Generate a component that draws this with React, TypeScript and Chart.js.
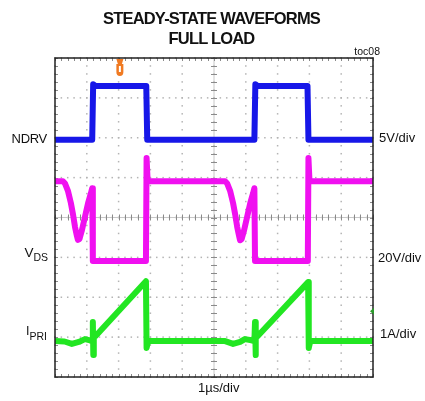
import React, { useEffect, useRef } from "react";
import { Chart, registerables } from "chart.js";

Chart.register(...registerables);

// ---- Scope setup ----
const TIME_DIVS = 10; // 1 µs/div
const VERT_DIVS = 8;

const NDRV_V_PER_DIV = 5;
const NDRV_OFFSET_DIV = 5.95;
const VDS_V_PER_DIV = 20;
const VDS_OFFSET_DIV = 2.91;
const IPRI_A_PER_DIV = 1;
const IPRI_OFFSET_DIV = 0.9;

const TRIGGER_TIME_US = 2.04;
const IPRI_MARKER_A = 0.75;

// ---- NDRV (V) ----
const NDRV_T = [0, 1.17, 1.2, 1.26, 2.87, 2.9, 6.27, 6.3, 6.36, 7.94, 7.97, 10];
const NDRV_V = [0, 0, 6.95, 6.78, 6.75, 0, 0, 6.95, 6.78, 6.75, 0, 0];

// ---- VDS (V) ----
const VDS_T = [
  0, 0.25, 0.31, 0.41, 0.5, 0.57, 0.63, 0.69, 0.72, 0.77, 0.84, 0.94, 1.04, 1.13, 1.17, 1.19,
  2.86, 2.88, 2.91, 2.96,
  5.35, 5.41, 5.51, 5.6, 5.67, 5.73, 5.79, 5.82, 5.87, 5.94, 6.04, 6.14, 6.23, 6.27, 6.29,
  7.95, 7.97, 8.0, 8.05, 10,
];
const VDS_V = [
  40, 40, 39, 35, 29, 23, 17, 12.5, 10.6, 11, 15, 22, 29, 34, 36.5, 0,
  0, 51.6, 41, 40,
  40, 39, 35, 29, 23, 17, 12.5, 10.4, 11, 15, 22, 29, 34, 36.5, 0,
  0, 51.6, 41, 40, 40,
];

// ---- IPRI (A) ----
const IPRI_T = [
  0, 0.3, 0.53, 0.75, 0.94, 1.1, 1.17, 1.19, 1.205, 1.22, 1.27, 2.86, 2.88, 2.93,
  5.35, 5.6, 5.82, 5.97, 6.18, 6.27, 6.29, 6.305, 6.32, 6.37, 7.96, 7.98, 8.03, 10,
];
const IPRI_A = [
  0, -0.01, -0.07, -0.02, 0.05, 0.02, 0, 0.48, -0.35, 0.15, 0.12, 1.5, -0.17, 0,
  0, -0.07, -0.02, 0.05, 0.02, 0, 0.48, -0.35, 0.15, 0.12, 1.48, -0.17, 0, 0,
];

const COLORS = {
  ndrv: "#1717e8",
  vds: "#f010f0",
  ipri: "#22e622",
  grid: "#b4b4b4",
  tick: "#8a8a8a",
  frame: "#222222",
  trigger: "#f07a22",
  marker: "#2a9a2a",
};

const zip = (t: number[], v: number[]) => t.map((x, i) => ({ x, y: v[i] }));

const scopePlugin = {
  id: "scopeGrid",
  beforeDatasetsDraw(chart: any) {
    const { ctx, chartArea } = chart;
    const { left, right, top, bottom } = chartArea;
    const xs = chart.scales.x;
    const ys = chart.scales.yGrid;
    ctx.save();
    // dotted grid
    ctx.fillStyle = COLORS.grid;
    for (let i = 0; i <= TIME_DIVS; i++) {
      const px = xs.getPixelForValue(i);
      for (let k = 0; k <= VERT_DIVS * 5; k++) {
        const py = ys.getPixelForValue(k / 5);
        ctx.fillRect(px - 0.75, py - 0.75, 1.5, 1.5);
      }
    }
    for (let j = 0; j <= VERT_DIVS; j++) {
      const py = ys.getPixelForValue(j);
      for (let k = 0; k <= TIME_DIVS * 5; k++) {
        const px = xs.getPixelForValue(k / 5);
        ctx.fillRect(px - 0.75, py - 0.75, 1.5, 1.5);
      }
    }
    // center lines with minor ticks
    const cx = xs.getPixelForValue(TIME_DIVS / 2);
    const cy = ys.getPixelForValue(VERT_DIVS / 2);
    ctx.strokeStyle = "#c8c8c8";
    ctx.lineWidth = 1;
    ctx.beginPath();
    ctx.moveTo(left, cy);
    ctx.lineTo(right, cy);
    ctx.moveTo(cx, top);
    ctx.lineTo(cx, bottom);
    ctx.stroke();
    ctx.strokeStyle = COLORS.tick;
    ctx.beginPath();
    for (let k = 0; k <= TIME_DIVS * 5; k++) {
      const px = Math.round(xs.getPixelForValue(k / 5)) + 0.5;
      ctx.moveTo(px, cy - 3);
      ctx.lineTo(px, cy + 3);
      ctx.moveTo(px, top);
      ctx.lineTo(px, top + 3);
      ctx.moveTo(px, bottom);
      ctx.lineTo(px, bottom - 3);
    }
    for (let k = 0; k <= VERT_DIVS * 5; k++) {
      const py = Math.round(ys.getPixelForValue(k / 5)) + 0.5;
      ctx.moveTo(cx - 3, py);
      ctx.lineTo(cx + 3, py);
      ctx.moveTo(left, py);
      ctx.lineTo(left + 3, py);
      ctx.moveTo(right, py);
      ctx.lineTo(right - 3, py);
    }
    ctx.stroke();
    ctx.restore();
  },
  afterDatasetsDraw(chart: any) {
    const { ctx, chartArea } = chart;
    const { left, right, top, bottom } = chartArea;
    ctx.save();
    ctx.strokeStyle = COLORS.frame;
    ctx.lineWidth = 1.5;
    ctx.strokeRect(left, top, right - left, bottom - top);

    // trigger marker
    const tx = chart.scales.x.getPixelForValue(TRIGGER_TIME_US);
    ctx.fillStyle = COLORS.trigger;
    ctx.beginPath();
    ctx.moveTo(tx - 3.5, top + 1);
    ctx.lineTo(tx + 3.5, top + 1);
    ctx.lineTo(tx + 2, top + 6);
    ctx.lineTo(tx - 2, top + 6);
    ctx.closePath();
    ctx.fill();
    ctx.beginPath();
    ctx.moveTo(tx - 3.5, top + 6);
    ctx.lineTo(tx + 3.5, top + 6);
    ctx.lineTo(tx + 3.5, top + 14);
    ctx.quadraticCurveTo(tx + 3.5, top + 18, tx, top + 18);
    ctx.quadraticCurveTo(tx - 3.5, top + 18, tx - 3.5, top + 14);
    ctx.closePath();
    ctx.fill();
    ctx.fillStyle = "#ffffff";
    ctx.fillRect(tx - 1, top + 8, 2, 6);

    // IPRI channel marker
    const my = chart.scales.yI.getPixelForValue(IPRI_MARKER_A);
    ctx.fillStyle = COLORS.marker;
    ctx.beginPath();
    ctx.moveTo(right - 3, my);
    ctx.lineTo(right + 1, my - 3.5);
    ctx.lineTo(right + 1, my + 3.5);
    ctx.closePath();
    ctx.fill();
    ctx.restore();
  },
};

const FONT = "'Liberation Sans', Arial, Helvetica, sans-serif";

function Txt(props: {
  x: number;
  base: number;
  size: number;
  align?: "left" | "right" | "center";
  bold?: boolean;
  spacing?: number;
  children: React.ReactNode;
}) {
  const { x, base, size, align = "left", bold, spacing, children } = props;
  const style: React.CSSProperties = {
    position: "absolute",
    top: base - 0.8465 * size,
    fontSize: size,
    lineHeight: `${size}px`,
    fontFamily: FONT,
    fontWeight: bold ? "bold" : "normal",
    whiteSpace: "nowrap",
    color: "#111",
    letterSpacing: spacing ? `${spacing}px` : undefined,
  };
  if (align === "left") style.left = x;
  else if (align === "right") style.right = 425 - x;
  else {
    style.left = x - 200;
    style.width = 400;
    style.textAlign = "center";
  }
  return <div style={style}>{children}</div>;
}

export default function App() {
  const ref = useRef<HTMLCanvasElement | null>(null);

  useEffect(() => {
    if (!ref.current) return;
    const common = {
      pointRadius: 0,
      borderWidth: 6,
      borderJoinStyle: "round" as const,
      tension: 0,
      fill: false,
    };
    const chart = new Chart(ref.current, {
      type: "line",
      data: {
        datasets: [
          { ...common, label: "NDRV", data: zip(NDRV_T, NDRV_V), borderColor: COLORS.ndrv, yAxisID: "yN" },
          { ...common, label: "VDS", data: zip(VDS_T, VDS_V), borderColor: COLORS.vds, yAxisID: "yV" },
          { ...common, label: "IPRI", data: zip(IPRI_T, IPRI_A), borderColor: COLORS.ipri, yAxisID: "yI" },
        ],
      },
      options: {
        animation: false,
        responsive: false,
        devicePixelRatio: 1,
        events: [],
        layout: { padding: { left: 55, top: 58, right: 52, bottom: 24 } },
        plugins: { legend: { display: false }, tooltip: { enabled: false }, title: { display: false } },
        scales: {
          x: { type: "linear", min: 0, max: TIME_DIVS, display: false },
          yGrid: { type: "linear", min: 0, max: VERT_DIVS, display: false },
          yN: {
            type: "linear",
            min: -NDRV_OFFSET_DIV * NDRV_V_PER_DIV,
            max: (VERT_DIVS - NDRV_OFFSET_DIV) * NDRV_V_PER_DIV,
            display: false,
          },
          yV: {
            type: "linear",
            min: -VDS_OFFSET_DIV * VDS_V_PER_DIV,
            max: (VERT_DIVS - VDS_OFFSET_DIV) * VDS_V_PER_DIV,
            display: false,
          },
          yI: {
            type: "linear",
            min: -IPRI_OFFSET_DIV * IPRI_A_PER_DIV,
            max: (VERT_DIVS - IPRI_OFFSET_DIV) * IPRI_A_PER_DIV,
            display: false,
          },
        },
      } as any,
      plugins: [scopePlugin],
    });
    return () => chart.destroy();
  }, []);

  return (
    <div style={{ position: "absolute", left: 0, top: 0, width: 425, height: 401, background: "#fff", overflow: "hidden" }}>
      <canvas ref={ref} width={425} height={401} style={{ display: "block", position: "absolute", left: 0, top: 0 }} />
      <Txt x={211.5} base={24} size={16.5} align="center" bold spacing={-0.8}>STEADY-STATE WAVEFORMS</Txt>
      <Txt x={211.5} base={44.3} size={16.5} align="center" bold spacing={-0.8}>FULL LOAD</Txt>
      <Txt x={380} base={55} size={10.5} align="right">toc08</Txt>
      <Txt x={47} base={142.7} size={13} align="right" spacing={-0.3}>NDRV</Txt>
      <Txt x={48} base={257.3} size={13.5} align="right">
        V<span style={{ fontSize: 10.5, verticalAlign: "-4.4px" }}>DS</span>
      </Txt>
      <Txt x={47} base={336} size={12.5} align="right">
        I<span style={{ fontSize: 10.5, verticalAlign: "-4.7px" }}>PRI</span>
      </Txt>
      <Txt x={379} base={141.7} size={13}>5V/div</Txt>
      <Txt x={378} base={261.7} size={13}>20V/div</Txt>
      <Txt x={380} base={338.3} size={13}>1A/div</Txt>
      <Txt x={198} base={391.7} size={13}>1µs/div</Txt>
    </div>
  );
}
